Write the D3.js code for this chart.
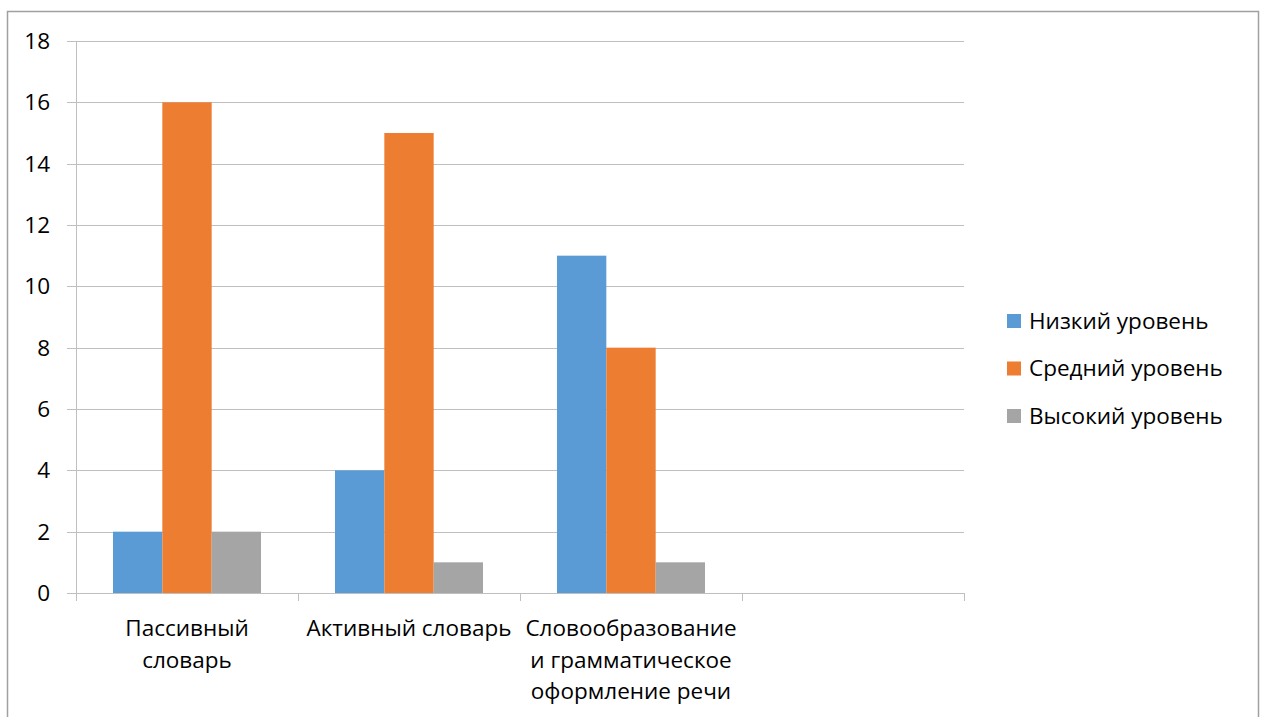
<!DOCTYPE html>
<html><head><meta charset="utf-8">
<script src="https://cdn.jsdelivr.net/npm/d3@7"></script>
<style>body{margin:0;background:#fff;} svg{display:block;} text{font-family:"Open Sans","Noto Sans",sans-serif;fill:#000;}</style>
</head><body>
<svg id="c" width="1265" height="717"></svg>
<script>
const categories = ["Пассивный словарь", "Активный словарь", "Словообразование и грамматическое оформление речи", ""];
const categoryLines = [["Пассивный", "словарь"], ["Активный словарь"], ["Словообразование", "и грамматическое", "оформление речи"], []];
const seriesNames = ["Низкий уровень", "Средний уровень", "Высокий уровень"];
const lowValues = [2, 4, 11, null];
const midValues = [16, 15, 8, null];
const highValues = [2, 1, 1, null];
const yTicks = [0, 2, 4, 6, 8, 10, 12, 14, 16, 18];
const colors = ["#5B9BD5", "#ED7D31", "#A5A5A5"];

const series = [lowValues, midValues, highValues];
const svg = d3.select("#c");
const L = 76, R = 964, T = 41, B = 593;
const FS = 22.5;

svg.append("rect").attr("x", 7.5).attr("y", 11.5).attr("width", 1251).attr("height", 720)
  .attr("fill", "none").attr("stroke", "#A0A0A0").attr("stroke-width", 1.5);

const y = d3.scaleLinear().domain([0, 18]).range([B, T]);
const x0 = d3.scaleBand().domain(categories).range([L, R]).paddingInner(1/3).paddingOuter(1/6);
const x1 = d3.scaleBand().domain(seriesNames).range([0, x0.bandwidth()]);

// gridlines
svg.append("g").selectAll("line").data(yTicks).join("line")
  .attr("x1", L - 9).attr("x2", R).attr("y1", d => Math.round(y(d)) + 0.5).attr("y2", d => Math.round(y(d)) + 0.5)
  .attr("stroke", "#BFBFBF").attr("stroke-width", 1);

// y labels
svg.append("g").selectAll("text").data(yTicks).join("text")
  .attr("x", 50).attr("y", d => y(d)).attr("dy", "0.35em").attr("text-anchor", "end")
  .attr("font-size", FS).text(d => d);

// bars
const g = svg.append("g");
categories.forEach((c, ci) => {
  series.forEach((vals, si) => {
    const v = vals[ci];
    if (v == null) return;
    g.append("rect").attr("x", x0(c) + x1(seriesNames[si])).attr("width", x1.bandwidth())
      .attr("y", y(v)).attr("height", y(0) - y(v)).attr("fill", colors[si]);
  });
});

// axes lines
svg.append("line").attr("x1", L + 0.5).attr("x2", L + 0.5).attr("y1", T).attr("y2", B + 8).attr("stroke", "#BFBFBF");
svg.append("line").attr("x1", L).attr("x2", R).attr("y1", B + 0.5).attr("y2", B + 0.5).attr("stroke", "#BFBFBF");
const step = x0.step();
const tickXs = d3.range(categories.length + 1).map(i => x0(categories[0]) - x0.paddingOuter() * step + i * step);
svg.append("g").selectAll("line").data(tickXs).join("line")
  .attr("x1", d => Math.round(d) + 0.5).attr("x2", d => Math.round(d) + 0.5).attr("y1", B).attr("y2", B + 8)
  .attr("stroke", "#BFBFBF");

// category labels
categories.forEach((c, ci) => {
  const cx = x0(c) + x0.bandwidth() / 2;
  const t = svg.append("text").attr("text-anchor", "middle").attr("font-size", FS);
  categoryLines[ci].forEach((ln, li) => {
    t.append("tspan").attr("x", cx).attr("y", 636 + li * 31.5).text(ln);
  });
});

// legend
const lg = svg.append("g");
seriesNames.forEach((n, i) => {
  const yy = 321 + i * 47.5;
  lg.append("rect").attr("x", 1007).attr("y", yy - 7).attr("width", 14).attr("height", 14).attr("fill", colors[i]);
  lg.append("text").attr("x", 1029).attr("y", yy).attr("dy", "0.35em").attr("font-size", FS).text(n);
});
</script>
</body></html>
